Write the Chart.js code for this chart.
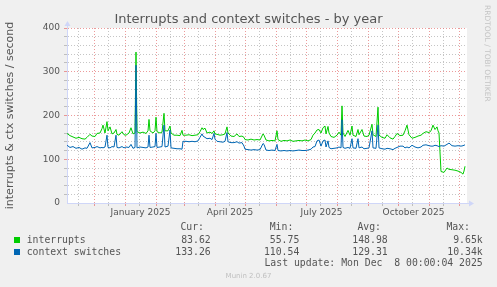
<!DOCTYPE html>
<html>
<head>
<meta charset="utf-8">
<script src="https://cdn.jsdelivr.net/npm/chart.js@4.4.1/dist/chart.umd.min.js"></script>
<style>
  body { margin: 0; background: #f0f0f0; }
  #graph { position: relative; width: 497px; height: 287px; overflow: hidden; font-family: 'DejaVu Sans', sans-serif; color: #555; }
  #graph canvas { position: absolute; left: 0; top: 0; }
  .txt { position: absolute; white-space: pre; line-height: 12px; }
  .mono { font-family: 'DejaVu Sans Mono', monospace; font-size: 9.8px; color: #555; }
  .title { left: 0; width: 497px; top: 11px; text-align: center; font-size: 13px; line-height: 16px; color: #555; }
  .brand { left: 482px; top: 5px; writing-mode: vertical-rl; font-size: 7.5px; line-height: 10px; color: #c4c4c4; }
  .version { left: 0; width: 497px; top: 270px; text-align: center; font-size: 7px; color: #c0c0c0; }
  .swatch { position: absolute; left: 14px; width: 6px; height: 6px; }
</style>
</head>
<body>
<div id="graph">
  <canvas id="chart" width="497" height="287"></canvas>
</div>
<script>
// Data (x = days since Nov 4 2024, one pixel per day)

const days = [
  0, 3, 6, 9, 12, 15, 18, 20, 23, 25,
  28, 30, 33, 35, 36, 38, 40, 41, 43, 45,
  47, 49, 50, 52, 55, 57, 59, 62, 64, 66,
  68, 69, 70, 73, 76, 79, 81, 82, 83, 86,
  88, 89, 90, 93, 95, 97, 98, 101, 103, 104,
  107, 110, 113, 115, 116, 119, 122, 125, 128, 131,
  133, 135, 136, 138, 140, 143, 145, 147, 148, 150,
  153, 156, 158, 160, 161, 164, 167, 170, 172, 175,
  177, 178, 181, 184, 187, 190, 193, 196, 197, 199,
  202, 205, 208, 210, 211, 214, 217, 220, 223, 226,
  229, 232, 235, 238, 241, 244, 246, 248, 250, 252,
  254, 256, 258, 259, 261, 262, 264, 267, 270, 272,
  274, 275, 276, 278, 281, 283, 285, 286, 289, 291,
  292, 295, 297, 300, 302, 305, 306, 309, 311, 312,
  315, 318, 320, 323, 326, 328, 330, 333, 336, 338,
  340, 342, 345, 348, 351, 354, 356, 359, 362, 364,
  366, 368, 370, 371, 372, 374, 377, 380, 382, 385,
  388, 391, 394, 396, 397, 398
];

const interrupts = [
  159, 154, 151, 148, 150, 147, 146, 150, 157, 153,
  152, 159, 160, 170, 178, 160, 186, 165, 174, 158,
  160, 168, 157, 155, 163, 156, 155, 160, 172, 158,
  160, 345, 163, 160, 162, 159, 165, 191, 165, 160,
  165, 196, 163, 160, 162, 205, 165, 165, 176, 160,
  155, 155, 154, 166, 155, 155, 156, 154, 155, 156,
  163, 172, 168, 171, 160, 162, 159, 165, 158, 157,
  155, 156, 158, 174, 160, 153, 152, 158, 152, 153,
  150, 145, 144, 146, 144, 145, 144, 158, 155, 144,
  142, 143, 142, 165, 145, 141, 143, 142, 144, 141,
  142, 143, 142, 144, 142, 145, 155, 160, 167, 168,
  160, 172, 176, 158, 175, 160, 152, 150, 155, 162,
  155, 222, 160, 152, 166, 155, 176, 155, 152, 168,
  156, 168, 153, 152, 155, 180, 156, 152, 219, 155,
  150, 148, 156, 149, 146, 152, 159, 154, 155, 165,
  178, 156, 148, 150, 153, 155, 159, 163, 161, 165,
  178, 168, 174, 165, 160, 72, 70, 80, 77, 76,
  75, 73, 70, 66, 73, 84
];

const contextSwitches = [
  132, 127, 129, 125, 127, 123, 126, 125, 138, 126,
  127, 129, 126, 127, 126, 128, 155, 127, 126, 129,
  128, 155, 127, 126, 129, 126, 128, 127, 134, 125,
  127, 315, 126, 128, 127, 126, 128, 155, 127, 128,
  129, 159, 127, 128, 129, 178, 128, 130, 167, 126,
  125, 124, 124, 123, 141, 141, 140, 141, 140, 142,
  150, 158, 153, 150, 147, 148, 145, 159, 146, 141,
  140, 139, 141, 161, 140, 138, 138, 140, 137, 138,
  130, 123, 122, 121, 122, 121, 122, 136, 134, 121,
  120, 121, 120, 134, 120, 119, 120, 119, 120, 119,
  120, 121, 120, 120, 121, 123, 128, 129, 142, 144,
  130, 142, 144, 128, 142, 127, 124, 125, 126, 128,
  126, 190, 127, 125, 127, 125, 147, 126, 125, 147,
  126, 128, 124, 125, 126, 165, 126, 125, 178, 126,
  124, 123, 125, 124, 122, 125, 127, 130, 130, 126,
  128, 126, 132, 128, 126, 128, 132, 133, 131, 130,
  130, 132, 131, 130, 129, 131, 130, 134, 137, 131,
  130, 131, 130, 131, 132, 133
];

// Axis ticks

const monthStartDays = [27, 58, 89, 117, 148, 178, 209, 239, 270, 301, 331, 362, 392];
const midMonthDays = [11, 41, 72, 103, 131, 162, 192, 223, 253, 284, 315, 345, 376];
const xLabelDays = [73.5, 163, 254.5, 346.5];
const xLabels = ['January 2025', 'April 2025', 'July 2025', 'October 2025'];

// Legend

const seriesNames = ['interrupts', 'context switches'];
const seriesColors = ['#00cc00', '#0066b3'];
const statHeaders = ['Cur:', 'Min:', 'Avg:', 'Max:'];
const curValues = ['83.62', '133.26'];
const minValues = ['55.75', '110.54'];
const avgValues = ['148.98', '129.31'];
const maxValues = ['9.65k', '10.34k'];
const lastUpdate = 'Last update: Mon Dec  8 00:00:04 2025';

// Settings

const colors = {
  axis: '#cfd6f8',
  major: 'rgba(230, 120, 120, 0.75)',
  minor: 'rgba(150, 150, 150, 0.55)',
  text: '#555',
};

const font = { family: "'DejaVu Sans', sans-serif", size: 9 };

function xGridColor(ctx) {
  const v = ctx.tick && ctx.tick.value;
  if (monthStartDays.includes(v)) return colors.major;
  if (midMonthDays.includes(v)) return colors.minor;
  return 'rgba(0,0,0,0)';
}

function yGridColor(ctx) {
  const v = ctx.tick && ctx.tick.value;
  if (v === 0) return 'rgba(0,0,0,0)';
  return v % 100 === 0 ? colors.major : colors.minor;
}

// Plugins

const plotBackground = {
  id: 'plotBackground',
  beforeDraw(chart) {
    const { ctx, chartArea: a } = chart;
    ctx.save();
    ctx.fillStyle = '#fff';
    ctx.fillRect(a.left, a.top, a.right - a.left, a.bottom - a.top);
    ctx.restore();
  }
};

const axisArrows = {
  id: 'axisArrows',
  afterDraw(chart) {
    const { ctx, chartArea: a } = chart;
    const x = Math.round(a.left) + 0.5;
    const y = Math.round(a.bottom) + 0.5;
    ctx.save();
    ctx.strokeStyle = colors.axis;
    ctx.fillStyle = colors.axis;
    ctx.lineWidth = 1;
    ctx.beginPath();
    ctx.moveTo(x, a.top);
    ctx.lineTo(x, a.top - 3);
    ctx.moveTo(a.right, y);
    ctx.lineTo(a.right + 3, y);
    ctx.stroke();
    ctx.beginPath();
    ctx.moveTo(x, a.top - 7);
    ctx.lineTo(x - 3, a.top - 2);
    ctx.lineTo(x + 3, a.top - 2);
    ctx.fill();
    ctx.beginPath();
    ctx.moveTo(a.right + 7, y);
    ctx.lineTo(a.right + 2, y - 3);
    ctx.lineTo(a.right + 2, y + 3);
    ctx.fill();
    ctx.restore();
  }
};

// Chart

const ctx = document.getElementById('chart').getContext('2d');

new Chart(ctx, {
  type: 'line',
  data: {
    datasets: [{
      label: seriesNames[0],
      data: days.map((d, i) => ({ x: d, y: interrupts[i] })),
      borderColor: seriesColors[0],
      borderWidth: 1,
      pointRadius: 0,
      tension: 0,
      order: 1,
    },
    {
      label: seriesNames[1],
      data: days.map((d, i) => ({ x: d, y: contextSwitches[i] })),
      borderColor: seriesColors[1],
      borderWidth: 1,
      pointRadius: 0,
      tension: 0,
      order: 0,
    }]
  },
  options: {
    responsive: false,
    animation: false,
    events: [],
    layout: { padding: { top: 28, right: 30, bottom: 64, left: 0 } },
    plugins: {
      legend: { display: false },
      title: { display: false },
      tooltip: { enabled: false },
    },
    scales: {
      x: {
        type: 'linear',
        min: 0,
        max: 400,
        afterFit: (scale) => { scale.height = 20; },
        afterBuildTicks: (scale) => {
          const all = monthStartDays.concat(midMonthDays, xLabelDays).filter(v => v <= 400);
          scale.ticks = all.sort((a, b) => a - b).map(v => ({ value: v }));
        },
        border: { color: colors.axis, width: 1, dash: [1, 2] },
        grid: { color: xGridColor, tickColor: xGridColor, tickLength: 3, lineWidth: 1 },
        ticks: {
          autoSkip: false,
          maxRotation: 0,
          padding: 1,
          font: font,
          color: colors.text,
          callback: (v) => {
            const i = xLabelDays.indexOf(v);
            return i >= 0 ? xLabels[i] : '';
          }
        }
      },
      y: {
        min: 0,
        max: 400,
        afterFit: (scale) => { scale.width = 67; },
        border: { color: colors.axis, width: 1, dash: [1, 2] },
        grid: { color: yGridColor, tickColor: yGridColor, tickLength: 3, lineWidth: 1 },
        ticks: {
          stepSize: 20,
          autoSkip: false,
          padding: 4,
          font: font,
          color: colors.text,
          callback: (v) => (v % 100 === 0 ? v : '')
        },
        title: {
          display: true,
          text: 'interrupts & ctx switches / second',
          font: { family: font.family, size: 11 },
          color: colors.text,
          padding: { top: 4, bottom: 0 }
        }
      }
    }
  },
  plugins: [plotBackground, axisArrows]
});

// Texts

const graph = document.getElementById('graph');

function addText(text, cls, style) {
  const el = document.createElement('div');
  el.className = 'txt ' + cls;
  el.textContent = text;
  Object.assign(el.style, style);
  graph.appendChild(el);
  return el;
}

addText('Interrupts and context switches - by year', 'title', {});
addText('RRDTOOL / TOBI OETIKER', 'brand', {});

const headerRight = [293, 203.7, 116, 27];
statHeaders.forEach((h, i) => {
  addText(h, 'mono', { top: '221.3px', right: headerRight[i] + 'px' });
});

const valueRight = [286.3, 197.7, 109.3, 14.3];
seriesNames.forEach((name, s) => {
  const top = 233.7 + s * 12;
  const sw = document.createElement('div');
  sw.className = 'swatch';
  sw.style.top = (top + 3.3) + 'px';
  sw.style.background = seriesColors[s];
  graph.appendChild(sw);
  addText(name, 'mono', { top: top + 'px', left: '26.7px' });
  [curValues, minValues, avgValues, maxValues].forEach((col, i) => {
    addText(col[s], 'mono', { top: top + 'px', right: valueRight[i] + 'px' });
  });
});

addText(lastUpdate, 'mono', { top: '257.3px', right: '14.3px' });
addText('Munin 2.0.67', 'version', {});
</script>
</body>
</html>
